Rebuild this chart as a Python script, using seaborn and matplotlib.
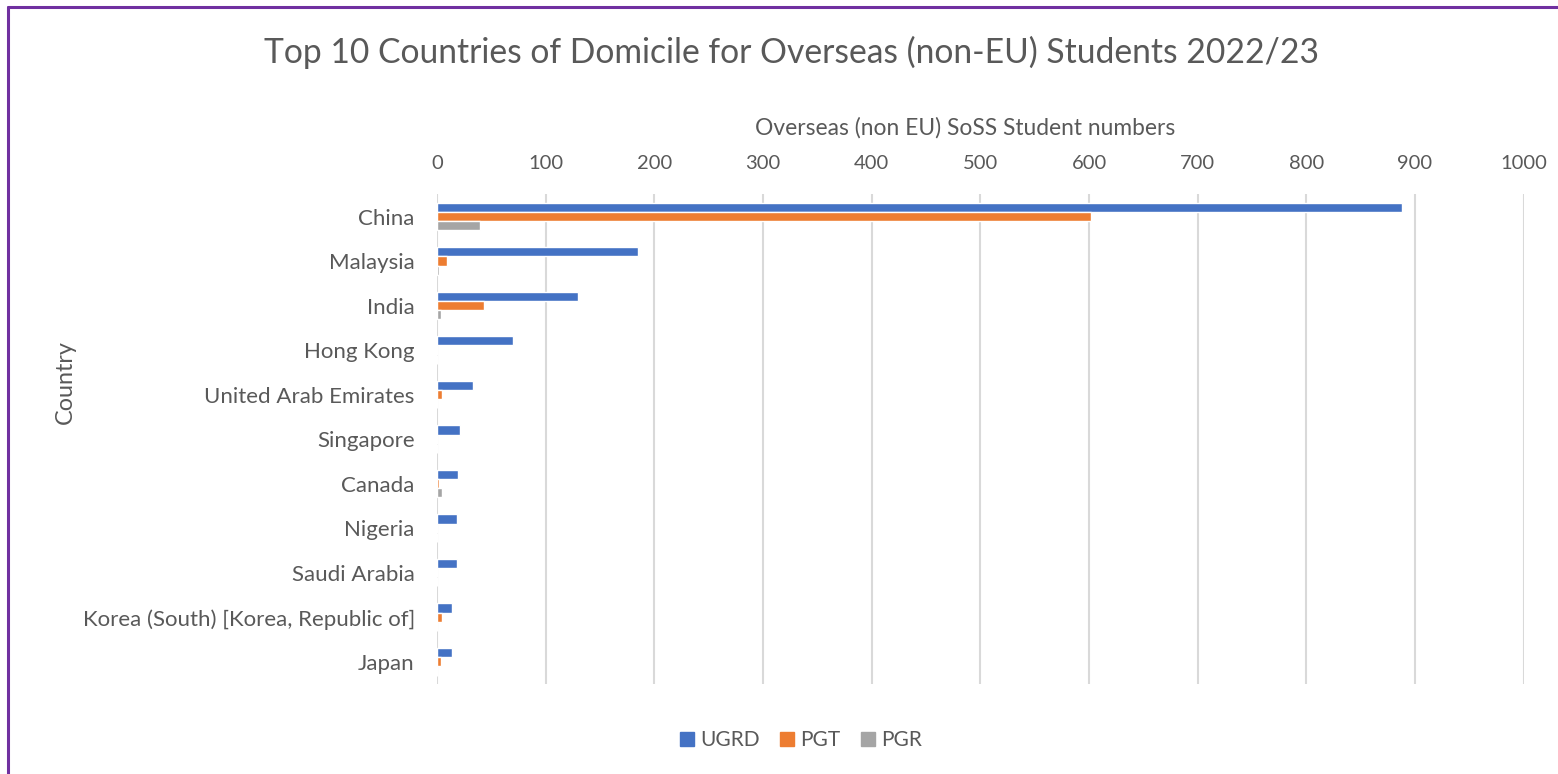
import matplotlib
matplotlib.use("Agg")
import matplotlib.pyplot as plt
import seaborn as sns
import pandas as pd
from matplotlib.lines import Line2D

countries = ["China", "Malaysia", "India", "Hong Kong", "United Arab Emirates",
             "Singapore", "Canada", "Nigeria", "Saudi Arabia",
             "Korea (South) [Korea, Republic of]", "Japan"]
ugrd = [888, 185, 130, 70, 33, 21, 19, 18, 18, 14, 14]
pgt = [602, 9, 43, 0, 5, 0, 2, 0, 0, 5, 4]
pgr = [40, 2, 4, 0, 0, 0, 5, 0, 0, 0, 0]
levels = ["UGRD", "PGT", "PGR"]
colors = ["#4472C4", "#ED7D31", "#A5A5A5"]
xticks = list(range(0, 1001, 100))

rows = []
for i, c in enumerate(countries):
    for lvl, vals in zip(levels, [ugrd, pgt, pgr]):
        rows.append({"Country": c, "Level": lvl, "Count": vals[i]})
df = pd.DataFrame(rows)

sns.set_theme(style="white")
plt.rcParams['font.family'] = ['Lato', 'DejaVu Sans']
txt = "#595959"

fig = plt.figure(figsize=(15.58, 7.74), dpi=100)
ax = fig.add_axes([0.2805, 0.1163, 0.978 - 0.2805, 0.749 - 0.1163])

sns.barplot(data=df, y="Country", x="Count", hue="Level", hue_order=levels,
            order=countries, palette=colors, orient="h", width=0.62,
            saturation=1, ax=ax, legend=True)

ax.set_xlim(0, 1000)
ax.set_xticks(xticks)
ax.xaxis.tick_top()
ax.xaxis.set_label_position("top")
ax.set_xlabel("Overseas (non EU) SoSS Student numbers", fontsize=16.4, color=txt)
ax.xaxis.set_label_coords(0.486, 1.121)
ax.set_ylabel("Country", fontsize=16.8, color=txt)
ax.yaxis.set_label_coords(-0.332, 0.617)
ax.tick_params(axis="x", labelsize=14.5, colors=txt, length=0, pad=16)
ax.tick_params(axis="y", labelsize=16, colors=txt, length=0, pad=16)
for s in ax.spines.values():
    s.set_visible(False)
ax.grid(axis="x", color="#D9D9D9", linewidth=1.5)
ax.set_axisbelow(True)

handles = [plt.Rectangle((0, 0), 1, 1, color=c) for c in colors]
ax.legend_.remove()
fig.legend(handles, levels, loc="center", bbox_to_anchor=(0.514, 0.044), ncol=3,
           frameon=False, fontsize=15, handlelength=0.65, handleheight=0.65,
           handletextpad=0.3, columnspacing=1.0, labelcolor=txt)

fig.text(0.508, 0.932, "Top 10 Countries of Domicile for Overseas (non-EU) Students 2022/23",
         ha="center", va="center", fontsize=24.2, color=txt)

# purple border (top and left)
fig.add_artist(Line2D([0.0052, 1.0], [0.9915, 0.9915], color="#7030A0", linewidth=2.2,
                      transform=fig.transFigure))
fig.add_artist(Line2D([0.0052, 0.0052], [0.0, 0.9915], color="#7030A0", linewidth=2.2,
                      transform=fig.transFigure))

fig.savefig("out.png", dpi=100)
